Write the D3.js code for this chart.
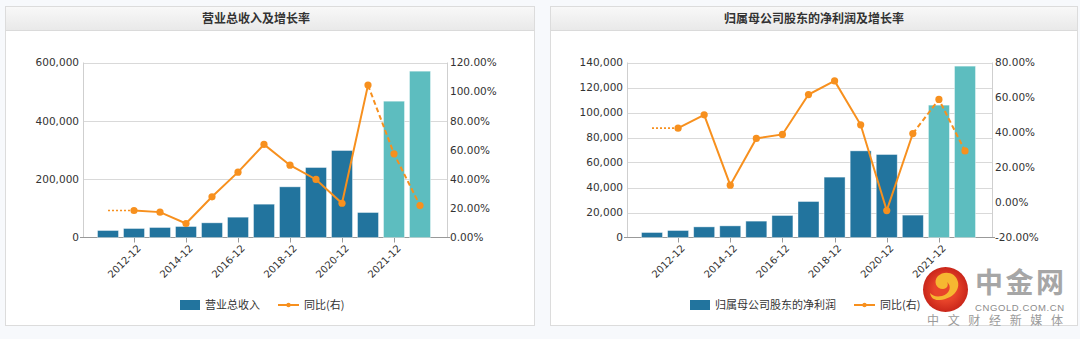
<!DOCTYPE html>
<html>
<head>
<meta charset="utf-8">
<script src="https://cdn.jsdelivr.net/npm/d3@7/dist/d3.min.js"></script>
<style>
body { margin: 0; background: #f7f9fc; }
svg { display: block; }
</style>
</head>
<body>
<svg id="chart" width="1080" height="339"></svg>
<script>
// categories (index 10 is a quarterly report, 11 and 12 are forecasts)
var categories = ["2011-12","2012-12","2013-12","2014-12","2015-12","2016-12","2017-12",
                  "2018-12","2019-12","2020-12","2021-09","2021-12","2022-12"];
var shownLabels = ["2012-12","2014-12","2016-12","2018-12","2020-12","2021-12"];
var forecastFrom = 11;

var revenue = [24000, 30900, 34300, 37700, 50300, 69700, 114300, 173700, 240000, 298300, 85700, 467400, 570300];
var revenueYoy = [null, 18.5, 17.4, 9.6, 27.9, 44.8, 63.8, 49.6, 39.8, 23.5, 104.5, 57.4, 21.9];

var profit = [4000, 5600, 8500, 9300, 13100, 17600, 28800, 48300, 69300, 66400, 17900, 105900, 137100];
var profitYoy = [null, 42.5, 50.1, 9.9, 36.6, 38.9, 61.7, 69.5, 44.4, -4.6, 39.4, 58.9, 29.5];

var leftTicks1 = [0, 200000, 400000, 600000];
var rightTicks1 = [0, 20, 40, 60, 80, 100, 120];
var leftTicks2 = [0, 20000, 40000, 60000, 80000, 100000, 120000, 140000];
var rightTicks2 = [-20, 0, 20, 40, 60, 80];

var BLUE = "#22749e", TEAL = "#5dbdbf", ORANGE = "#f7901e";
var numFont = "'DejaVu Sans', Verdana, sans-serif";
var cjkFont = "'Noto Sans CJK SC', sans-serif";

var svg = d3.select("#chart");
var fmt = d3.format(",");

function drawPanel(opt) {
    var g = svg.append("g");

    // panel frame and title bar
    var grad = svg.append("defs").append("linearGradient")
        .attr("id", "tb" + opt.id).attr("x1", 0).attr("y1", 0).attr("x2", 0).attr("y2", 1);
    grad.append("stop").attr("offset", 0).attr("stop-color", "#f8f8f8");
    grad.append("stop").attr("offset", 1).attr("stop-color", "#e9e9e9");

    g.append("rect").attr("x", opt.x0).attr("y", 6.5).attr("width", opt.x1 - opt.x0).attr("height", 319)
        .attr("fill", "#fff").attr("stroke", "#dcdcdc");
    g.append("rect").attr("x", opt.x0 + 0.5).attr("y", 7).attr("width", opt.x1 - opt.x0 - 1).attr("height", 23)
        .attr("fill", "url(#tb" + opt.id + ")");
    g.append("line").attr("x1", opt.x0).attr("x2", opt.x1).attr("y1", 30.5).attr("y2", 30.5)
        .attr("stroke", "#dadada");
    g.append("text").attr("x", opt.titleX).attr("y", 23).attr("text-anchor", "middle")
        .style("font", "bold 12px " + cjkFont).attr("fill", "#333").text(opt.title);

    var top = 62.5, bottom = 237.5;
    var x = d3.scalePoint().domain(categories).range([opt.left + 25, opt.right - 27]);
    var y = d3.scaleLinear().domain(d3.extent(opt.leftTicks)).range([bottom, top]);
    var y2 = d3.scaleLinear().domain(d3.extent(opt.rightTicks)).range([bottom, top]);
    var bw = 21;

    // grid
    g.selectAll(".grid").data(opt.leftTicks.slice(1)).enter().append("line")
        .attr("x1", opt.left).attr("x2", opt.right)
        .attr("y1", d => Math.round(y(d)) + 0.5).attr("y2", d => Math.round(y(d)) + 0.5)
        .attr("stroke", "#d9d9d9");

    // axes lines
    g.append("line").attr("x1", opt.left + 0.5).attr("x2", opt.left + 0.5).attr("y1", top).attr("y2", bottom)
        .attr("stroke", "#cfcfcf");
    g.append("line").attr("x1", opt.right + 0.5).attr("x2", opt.right + 0.5).attr("y1", top).attr("y2", bottom)
        .attr("stroke", "#cfcfcf");
    g.append("line").attr("x1", opt.left - 3).attr("x2", opt.right + 3).attr("y1", bottom).attr("y2", bottom)
        .attr("stroke", "#999");

    // left / right tick labels
    g.selectAll(".ly").data(opt.leftTicks).enter().append("text")
        .attr("x", opt.left - 4).attr("y", d => y(d)).attr("dy", "0.35em")
        .attr("text-anchor", "end").style("font", "10.5px " + numFont).attr("fill", "#333")
        .text(d => fmt(d));
    g.selectAll(".ry").data(opt.rightTicks).enter().append("text")
        .attr("x", opt.right + 3).attr("y", d => y2(d)).attr("dy", "0.35em")
        .attr("text-anchor", "start").style("font", "10.5px " + numFont).attr("fill", "#333")
        .text(d => d.toFixed(2) + "%");

    // x ticks and labels
    g.selectAll(".xt").data(shownLabels).enter().append("line")
        .attr("x1", d => Math.round(x(d)) + 0.5).attr("x2", d => Math.round(x(d)) + 0.5)
        .attr("y1", bottom).attr("y2", bottom + 5).attr("stroke", "#999");
    g.selectAll(".xl").data(shownLabels).enter().append("text")
        .attr("transform", d => "translate(" + (x(d) + 5) + "," + (bottom + 9) + ") rotate(-45)")
        .attr("text-anchor", "end").attr("dy", "0.35em")
        .style("font", "10px " + numFont).attr("fill", "#333").text(d => d);

    // bars
    g.selectAll(".bar").data(opt.bars).enter().append("rect")
        .attr("x", (d, i) => x(categories[i]) - bw / 2)
        .attr("width", bw)
        .attr("y", d => y(d))
        .attr("height", d => bottom - y(d))
        .attr("fill", (d, i) => i >= forecastFrom ? TEAL : BLUE)
        .attr("stroke", "#fff").attr("stroke-opacity", 0.5).attr("stroke-width", 0.8);

    // growth line
    var pts = opt.yoy.map((v, i) => ({c: categories[i], v: v, i: i})).filter(d => d.v != null);
    var line = d3.line().x(d => x(d.c)).y(d => y2(d.v));
    var first = pts[0];
    g.append("path").datum([{c: categories[0], v: first.v}, first]).attr("d", line)
        .attr("fill", "none").attr("stroke", ORANGE).attr("stroke-width", 1.6).attr("stroke-dasharray", "2,2");
    g.append("path").datum(pts.filter(d => d.i <= forecastFrom - 1)).attr("d", line)
        .attr("fill", "none").attr("stroke", ORANGE).attr("stroke-width", 2);
    g.append("path").datum(pts.filter(d => d.i >= forecastFrom - 1)).attr("d", line)
        .attr("fill", "none").attr("stroke", ORANGE).attr("stroke-width", 2).attr("stroke-dasharray", "5,3");
    g.selectAll(".dot").data(pts).enter().append("circle")
        .attr("cx", d => x(d.c)).attr("cy", d => y2(d.v)).attr("r", 3.6).attr("fill", ORANGE);

    // legend
    var lg = g.append("g").attr("transform", "translate(" + opt.legendX + ",305)");
    lg.append("rect").attr("x", 0).attr("y", -5).attr("width", 20).attr("height", 10).attr("fill", BLUE);
    lg.append("text").attr("x", 25).attr("y", 0).attr("dy", "0.36em")
        .style("font", "11px " + cjkFont).attr("fill", "#333").text(opt.barName);
    var lx = 25 + opt.barName.length * 11 + 18;
    lg.append("line").attr("x1", lx).attr("x2", lx + 21).attr("y1", 0).attr("y2", 0)
        .attr("stroke", ORANGE).attr("stroke-width", 2);
    lg.append("circle").attr("cx", lx + 10.5).attr("cy", 0).attr("r", 2.2).attr("fill", ORANGE);
    lg.append("text").attr("x", lx + 26).attr("y", 0).attr("dy", "0.36em")
        .style("font", "11px " + cjkFont).attr("fill", "#333").text("同比(右)");
}

drawPanel({id: 1, x0: 5.5, x1: 534.5, titleX: 256, title: "营业总收入及增长率",
    left: 83, right: 447, leftTicks: leftTicks1, rightTicks: rightTicks1,
    bars: revenue, yoy: revenueYoy, barName: "营业总收入", legendX: 180});

drawPanel({id: 2, x0: 550.5, x1: 1077.5, titleX: 814, title: "归属母公司股东的净利润及增长率",
    left: 627, right: 992, leftTicks: leftTicks2, rightTicks: rightTicks2,
    bars: profit, yoy: profitYoy, barName: "归属母公司股东的净利润", legendX: 690});

// watermark
var wm = svg.append("g");
var rg = svg.append("defs").append("radialGradient").attr("id", "wmr");
rg.append("stop").attr("offset", 0.5).attr("stop-color", "#e8442a");
rg.append("stop").attr("offset", 1).attr("stop-color", "#c9261a");
wm.append("circle").attr("cx", 945.5).attr("cy", 289.5).attr("r", 22.5).attr("fill", "url(#wmr)");
wm.append("path")
    .attr("d", "M938,300 C950,300 960,292 958,282 C956,272 944,270 938,276 C933,281 936,289 943,289 C947,289 949,285 947,282 C952,286 950,294 942,296 C936,297 933,296 930,293 C931,298 934,300 938,300 Z")
    .attr("fill", "#f6b731");
wm.append("text").attr("x", 975).attr("y", 293).attr("textLength", 89)
    .style("font", "bold 28px " + cjkFont).attr("fill", "#a6a6a6").text("中金网");
wm.append("text").attr("x", 975).attr("y", 311).attr("textLength", 89)
    .style("font", "9.5px 'Liberation Sans', Arial, sans-serif").attr("fill", "#8c8c8c").text("CNGOLD.COM.CN");
wm.append("text").attr("x", 927).attr("y", 325).attr("textLength", 136)
    .style("font", "12px " + cjkFont).attr("fill", "#9a9a9a").text("中文财经新媒体");
</script>
</body>
</html>
